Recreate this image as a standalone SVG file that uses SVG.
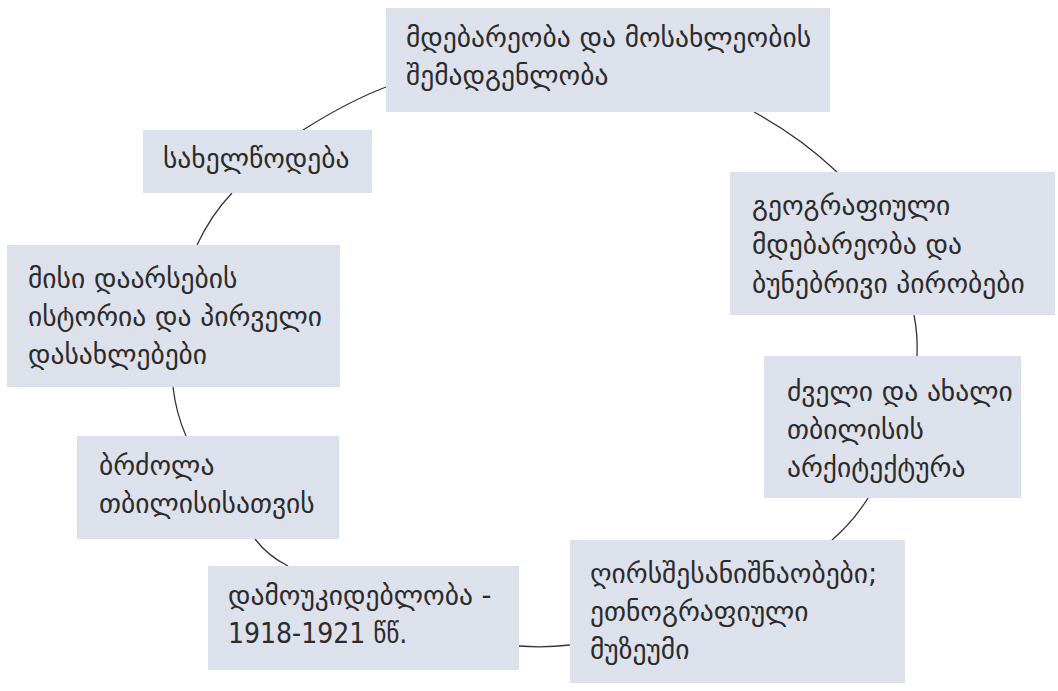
<svg xmlns="http://www.w3.org/2000/svg" width="1058" height="691" viewBox="0 0 1058 691">
<style>
.box{fill:#dde1ec;}
.t{font-family:"DejaVu Sans","Noto Sans",sans-serif;font-size:27.5px;fill:#2b2b2b;}
.n{font-family:"DejaVu Sans Condensed","DejaVu Sans",sans-serif;font-stretch:condensed;font-size:28px;}
.c{fill:none;stroke:#333;stroke-width:1.3;}
</style>
<rect width="1058" height="691" fill="#ffffff"/>
<g id="connectors">
<path class="c" d="M303,130 Q349,101 386,87"/>
<path class="c" d="M232,193 Q211,215 197,245"/>
<path class="c" d="M173,387 Q176,413 186,436"/>
<path class="c" d="M255,539 Q268,556 288,566"/>
<path class="c" d="M519,646 Q545,648 570,645"/>
<path class="c" d="M868,498 Q853,522 832,540"/>
<path class="c" d="M914,315 Q918,335 917,356"/>
<path class="c" d="M754,112 Q800,137 837,172"/>
</g>
<g id="node1">
<rect class="box" x="386" y="8" width="444" height="104"/>
<text class="t" x="406" y="47">მდებარეობა და მოსახლეობის</text>
<text class="t" x="406" y="85">შემადგენლობა</text>
</g>
<g id="node2">
<rect class="box" x="143" y="130" width="229" height="63"/>
<text class="t" x="163" y="168">სახელწოდება</text>
</g>
<g id="node3">
<rect class="box" x="7" y="245" width="333" height="142"/>
<text class="t" x="28" y="288">მისი დაარსების</text>
<text class="t" x="28" y="326">ისტორია და პირველი</text>
<text class="t" x="28" y="364">დასახლებები</text>
</g>
<g id="node4">
<rect class="box" x="730" y="172" width="325" height="143"/>
<text class="t" x="752" y="215">გეოგრაფიული</text>
<text class="t" x="752" y="254">მდებარეობა და</text>
<text class="t" x="752" y="293">ბუნებრივი პირობები</text>
</g>
<g id="node5">
<rect class="box" x="764" y="356" width="257" height="142"/>
<text class="t" x="787" y="401">ძველი და ახალი</text>
<text class="t" x="787" y="439">თბილისის</text>
<text class="t" x="787" y="477">არქიტექტურა</text>
</g>
<g id="node6">
<rect class="box" x="77" y="436" width="262" height="103"/>
<text class="t" x="99" y="475">ბრძოლა</text>
<text class="t" x="99" y="513">თბილისისათვის</text>
</g>
<g id="node7">
<rect class="box" x="208" y="566" width="311" height="104"/>
<text class="t" x="228" y="605">დამოუკიდებლობა -</text>
<text class="t n" x="228" y="643">1918-1921 წწ.</text>
</g>
<g id="node8">
<rect class="box" x="570" y="540" width="335" height="143"/>
<text class="t" x="590" y="583">ღირსშესანიშნაობები;</text>
<text class="t" x="590" y="621">ეთნოგრაფიული</text>
<text class="t" x="590" y="659">მუზეუმი</text>
</g>
</svg>
